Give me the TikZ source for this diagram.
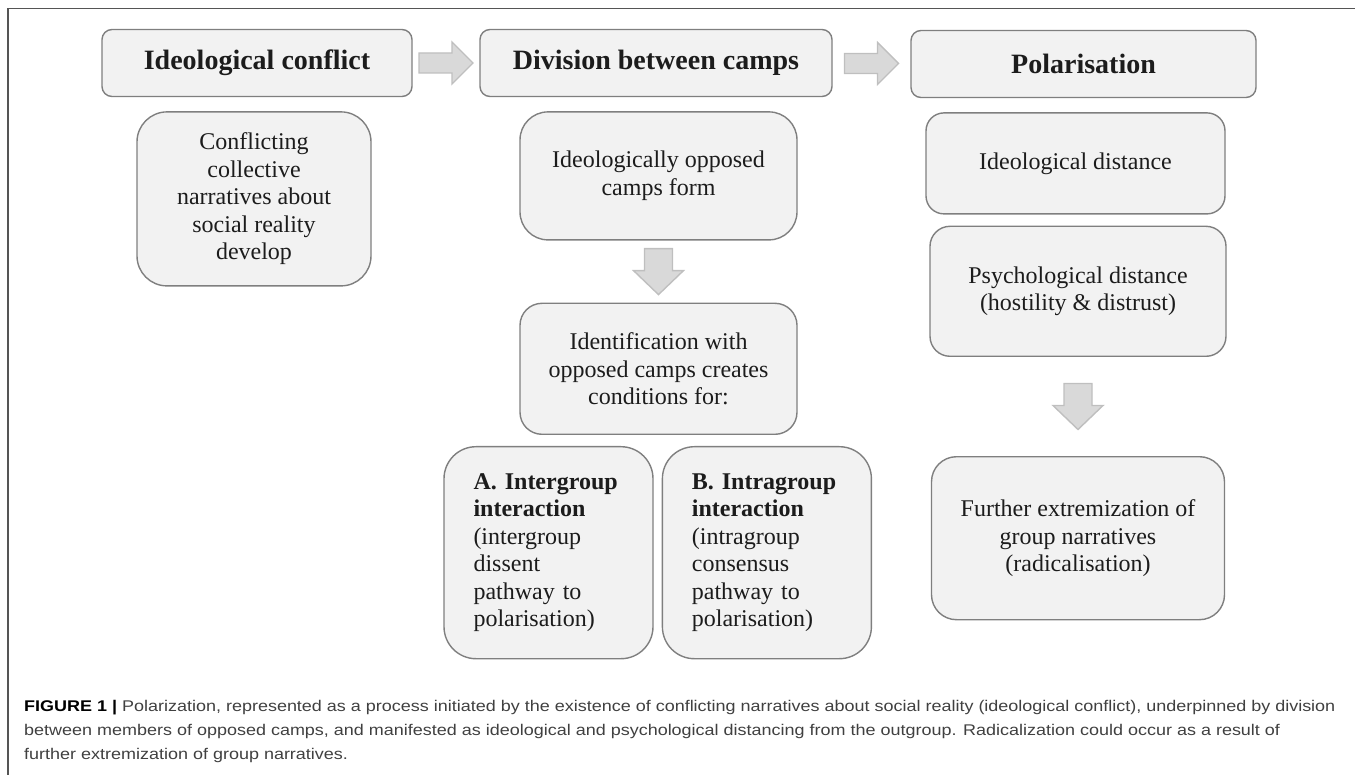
\documentclass[tikz,border=0pt]{standalone}
\usepackage{fontspec}
\setmainfont{Liberation Serif}
\newfontfamily\capfont[FakeStretch=1.16]{Liberation Sans}
\usetikzlibrary{positioning,calc}
\definecolor{boxfill}{HTML}{F2F2F2}
\definecolor{boxedge}{HTML}{7F7F7F}
\definecolor{blkfill}{HTML}{D9D9D9}
\definecolor{blkedge}{HTML}{BFBFBF}
\definecolor{inktext}{HTML}{1C1C1C}
\definecolor{captext}{HTML}{404040}
\definecolor{framegray}{HTML}{555555}
\tikzset{
  head/.style={draw=boxedge, line width=1.4pt, fill=boxfill, rounded corners=10pt, minimum height=67pt, align=center, text=inktext, font=\fontsize{28}{32}\selectfont\bfseries},
  stage/.style={draw=boxedge, line width=1.4pt, fill=boxfill, rounded corners=28pt, align=center, text=inktext, font=\fontsize{24}{27.5}\selectfont},
  blk/.style={draw=blkedge, fill=blkfill, line width=1.4pt}
}
\newcommand{\rblock}[2]{%
  \coordinate (m) at ($(#1.east)!0.5!(#2.west)$);
  \draw[blk] ($(m)+(-27,-10)$) -- ++(33,0) -- ++(0,-11) -- ++(21,21) -- ++(-21,21) -- ++(0,-11) -- ++(-33,0) -- cycle;}
\newcommand{\dblock}[2]{%
  \coordinate (m) at ($(#1.south)!0.5!(#2.north)$);
  \draw[blk] ($(m)+(-14,-23)$) -- ++(28,0) -- ++(0,22) -- ++(11,0) -- ++(-25,24) -- ++(-25,-24) -- ++(11,0) -- cycle;}

\begin{document}
\begin{tikzpicture}[x=1pt, y=-1pt]
  \tikzset{
    path/.style={stage, text width=150pt, align=left, minimum width=209pt, minimum height=212pt, rounded corners=32pt},
    capline/.style={font=\capfont\fontsize{15.5}{24}\selectfont, text=captext, align=left, inner sep=0pt}
  }
  \useasboundingbox (0,0) rectangle (1355,775);
  \draw[framegray, line width=1.3pt] (8,775) -- (8,8.5) -- (1355,8.5);

  \node[head, minimum width=310pt] (h1) at (257,63) {Ideological conflict};
  \node[head, minimum width=352pt] (h2) at (656,63) {Division between camps};
  \node[head, minimum width=345pt] (h3) at (1083.5,64) {Polarisation};

  \node[stage, below=14pt of h1, xshift=-3pt, minimum width=234pt, minimum height=174pt, rounded corners=30pt] (c1) {Conflicting\\collective\\narratives about\\social reality\\develop};

  \node[stage, below=14pt of h2, xshift=2.5pt, minimum width=277pt, minimum height=128pt] (o2) {Ideologically opposed\\camps form};
  \node[stage, below=62pt of o2, minimum width=277pt, minimum height=131pt, rounded corners=22pt] (id2) {Identification with\\opposed camps creates\\conditions for:};
  \node[path, below=11pt of id2, xshift=-110pt] (pa) {\textbf{A. Intergroup}\\\textbf{interaction}\\(intergroup\\dissent\\pathway to\\polarisation)};
  \node[path, right=8pt of pa] (pb) {\textbf{B. Intragroup}\\\textbf{interaction}\\(intragroup\\consensus\\pathway to\\polarisation)};

  \node[stage, below=14pt of h3, xshift=-8pt, minimum width=299pt, minimum height=101pt, rounded corners=18pt] (p1) {Ideological distance};
  \node[stage, below=11pt of p1, xshift=2.5pt, minimum width=296pt, minimum height=130pt, rounded corners=20pt] (p2) {Psychological distance\\(hostility \& distrust)};
  \node[stage, below=99pt of p2, minimum width=293pt, minimum height=163pt, rounded corners=25pt] (p3) {Further extremization of\\group narratives\\(radicalisation)};

  \rblock{h1}{h2}
  \rblock{h2}{h3}
  \dblock{o2}{id2}
  \dblock{p2}{p3}

  \node[capline, anchor=north west] (cap) at (24,700) {\textcolor{black}{\textbf{FIGURE 1 |}} Polarization, represented as a process initiated by the existence of conflicting narratives about social reality (ideological conflict), underpinned by division\\between members of opposed camps, and manifested as ideological and psychological distancing from the outgroup. Radicalization could occur as a result of\\further extremization of group narratives.};
\end{tikzpicture}
\end{document}
